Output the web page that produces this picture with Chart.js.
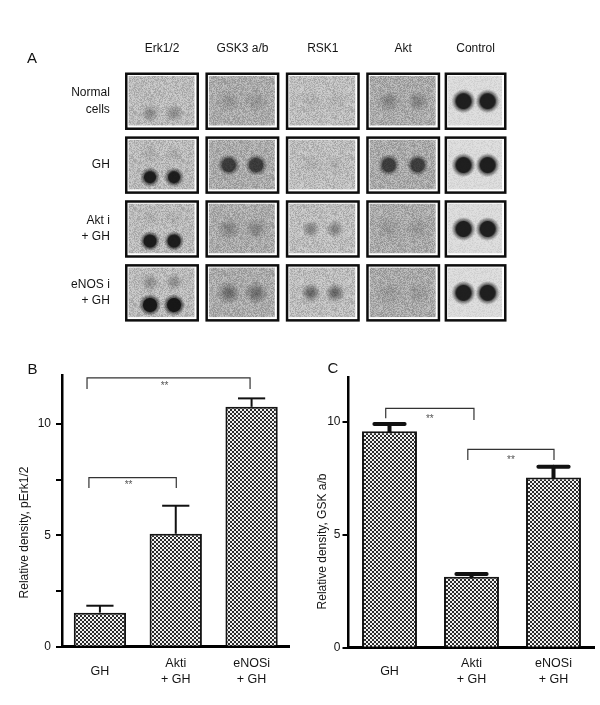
<!DOCTYPE html>
<html>
<head>
<meta charset="utf-8">
<script src="https://cdn.jsdelivr.net/npm/chart.js@4.4.1/dist/chart.umd.min.js"></script>
<style>
  html, body { margin: 0; padding: 0; background: #fff; }
  #wrap { position: relative; width: 600px; height: 705px; overflow: hidden; }
  .panel { position: absolute; }
</style>
</head>
<body>
<div id="wrap">
  <div class="panel" style="left:0;top:0;width:600px;height:345px"><canvas id="chart-blot"></canvas></div>
  <div class="panel" style="left:0;top:355px;width:300px;height:350px"><canvas id="chart-erk"></canvas></div>
  <div class="panel" style="left:300px;top:355px;width:300px;height:350px"><canvas id="chart-gsk"></canvas></div>
</div>
<script>
// ==================== DATOS ====================
const blotColumns = ['Erk1/2', 'GSK3 a/b', 'RSK1', 'Akt', 'Control'];
const blotRows = [['Normal', 'cells'], 'GH', ['Akt i', '+ GH'], ['eNOS i', '+ GH']];
// darkness of each spot pair (0 = invisible, 1 = black), rows x columns
const spotLevel = [
    [0.32, 0.16, 0.07, 0.30, 0.95],
    [0.95, 0.74, 0.08, 0.72, 0.95],
    [0.95, 0.28, 0.38, 0.13, 0.95],
    [0.98, 0.46, 0.56, 0.13, 0.95]
];
const spotRadius = [
    [6, 7.5, 7, 7, 8.5],
    [6.5, 7.5, 7, 7.5, 8.5],
    [7, 7.5, 6, 8, 8.5],
    [7.5, 7.5, 6.5, 8, 8.5]
];
// faint upper pair in the Erk1/2 spots
const erkUpperLevel = [0, 0.10, 0.08, 0.30];

const groups = ['GH', ['Akti', '+ GH'], ['eNOSi', '+ GH']];
const erkMean = [1.53, 5.07, 10.77];
const erkSem = [0.31, 1.26, 0.38];
const erkTicks = [0, 2.5, 5, 7.5, 10];
const erkBrackets = [
    { from: 0, to: 2, level: 12.07, ends: [11.57, 11.57], mark: '**' },
    { from: 0, to: 1, level: 7.59, ends: [7.13, 7.13], mark: '**' }
];
const gskMean = [9.60, 3.15, 7.55];
const gskSem = [0.32, 0.12, 0.47];
const gskTicks = [0, 5, 10];
const gskBrackets = [
    { from: 0, to: 1, level: 10.61, ends: [10.17, 10.09], mark: '**' },
    { from: 1, to: 2, level: 8.79, ends: [8.32, 8.32], mark: '**' }
];

Chart.defaults.font.family = "'Liberation Sans', Arial, sans-serif";
Chart.defaults.color = '#141414';

// ==================== UTILIDADES ====================
function hash(n) {
    const s = Math.sin(n * 127.1 + 311.7) * 43758.5453;
    return s - Math.floor(s);
}

function membraneTile(base, amp, seed) {
    const c = document.createElement('canvas');
    c.width = c.height = 48;
    const g = c.getContext('2d');
    g.fillStyle = base;
    g.fillRect(0, 0, 48, 48);
    for (let i = 0; i < 48 * 48; i++) {
        const v = hash(i + seed * 977);
        g.fillStyle = v > 0.5 ? `rgba(255,255,255,${(v - 0.5) * amp})` : `rgba(0,0,0,${(0.5 - v) * amp * 0.5})`;
        g.fillRect(i % 48, Math.floor(i / 48), 1, 1);
    }
    return c;
}

const spotCache = {};
function spotImage(r, level) {
    const key = r + '_' + level;
    if (spotCache[key]) return spotCache[key];
    const dark = level > 0.6;
    const R = Math.ceil(dark ? r + 3 : r * 1.5);
    const c = document.createElement('canvas');
    c.width = c.height = 2 * R;
    const g = c.getContext('2d');
    const grad = g.createRadialGradient(R, R, 0, R, R, R);
    if (dark) {
        grad.addColorStop(0, `rgba(20,20,20,${level})`);
        grad.addColorStop((r - 1) / R, `rgba(20,20,20,${level})`);
        grad.addColorStop(r / R, `rgba(20,20,20,${level * 0.6})`);
        grad.addColorStop(1, 'rgba(20,20,20,0)');
    } else {
        grad.addColorStop(0, `rgba(30,30,30,${level})`);
        grad.addColorStop(0.45 * r / R, `rgba(30,30,30,${level * 0.9})`);
        grad.addColorStop(r / R, `rgba(30,30,30,${level * 0.45})`);
        grad.addColorStop(1, 'rgba(30,30,30,0)');
    }
    g.fillStyle = grad;
    g.fillRect(0, 0, 2 * R, 2 * R);
    spotCache[key] = c;
    return c;
}

function checkPattern(canvasId) {
    const tile = document.createElement('canvas');
    tile.width = tile.height = 4;
    const g = tile.getContext('2d');
    g.fillStyle = '#f2f2f2';
    g.fillRect(0, 0, 4, 4);
    g.fillStyle = '#2c2c2c';
    g.fillRect(0, 0, 2, 2);
    g.fillRect(2, 2, 2, 2);
    return document.getElementById(canvasId).getContext('2d').createPattern(tile, 'repeat');
}

function panelLetter(letter, x, y) {
    return {
        id: 'panelLetter',
        afterDraw(chart) {
            const ctx = chart.ctx;
            ctx.save();
            ctx.font = "15px 'Liberation Sans', Arial, sans-serif";
            ctx.fillStyle = '#111';
            ctx.textAlign = 'center';
            ctx.textBaseline = 'middle';
            ctx.fillText(letter, x, y);
            ctx.restore();
        }
    };
}

function sideTitle(text, x, y) {
    return {
        id: 'sideTitle',
        afterDraw(chart) {
            const ctx = chart.ctx;
            ctx.save();
            ctx.translate(x, y);
            ctx.rotate(-Math.PI / 2);
            ctx.font = "12px 'Liberation Sans', Arial, sans-serif";
            ctx.fillStyle = '#141414';
            ctx.textAlign = 'center';
            ctx.textBaseline = 'middle';
            ctx.fillText(text, 0, 0);
            ctx.restore();
        }
    };
}

function errorBars(sems, style) {
    return {
        id: 'errorBars',
        afterDatasetsDraw(chart) {
            const { ctx, scales: { y } } = chart;
            const vals = chart.data.datasets[0].data;
            ctx.save();
            ctx.strokeStyle = '#111';
            ctx.lineCap = style.round ? 'round' : 'butt';
            chart.getDatasetMeta(0).data.forEach((bar, i) => {
                const yTop = y.getPixelForValue(vals[i] + sems[i]);
                const half = bar.width * style.capFrac / 2;
                ctx.lineWidth = style.stem;
                ctx.beginPath();
                ctx.moveTo(bar.x, bar.y);
                ctx.lineTo(bar.x, yTop);
                ctx.stroke();
                ctx.lineWidth = style.cap;
                ctx.beginPath();
                ctx.moveTo(bar.x - half, yTop);
                ctx.lineTo(bar.x + half, yTop);
                ctx.stroke();
            });
            ctx.restore();
        }
    };
}

// shifts = [left, right] offsets of each bracket end, in category widths
function brackets(list, shifts, textGap) {
    return {
        id: 'brackets',
        afterDraw(chart) {
            const { ctx, scales: { x, y } } = chart;
            const step = x.getPixelForValue(1) - x.getPixelForValue(0);
            ctx.save();
            ctx.strokeStyle = '#333';
            ctx.lineWidth = 1.2;
            ctx.fillStyle = '#555';
            ctx.font = "10px 'Liberation Sans', Arial, sans-serif";
            ctx.textAlign = 'center';
            ctx.textBaseline = 'middle';
            list.forEach((b, k) => {
                const x0 = x.getPixelForValue(b.from) + shifts[k][0] * step;
                const x1 = x.getPixelForValue(b.to) + shifts[k][1] * step;
                const yl = y.getPixelForValue(b.level);
                ctx.beginPath();
                ctx.moveTo(x0, y.getPixelForValue(b.ends[0]));
                ctx.lineTo(x0, yl);
                ctx.lineTo(x1, yl);
                ctx.lineTo(x1, y.getPixelForValue(b.ends[1]));
                ctx.stroke();
                ctx.fillText(b.mark, (x0 + x1) / 2 + textGap[0], yl + textGap[1]);
            });
            ctx.restore();
        }
    };
}

// ==================== PANEL A: DOT BLOT ====================
const COL_POS = [0, 1, 2, 3, 3.9];
const COL_W = [0.92, 0.92, 0.92, 0.92, 0.77];
const SPOT_DX = [0.15, 0.17, 0.15, 0.18, 0.15];
const ROW_H = 0.9;
const membraneBase = ['#bcbcbc', '#ababab', '#bebebe', '#a9a9a9', '#dcdcdc'];

const blotPoints = [];
blotRows.forEach((row, i) => {
    blotColumns.forEach((col, j) => {
        const dy = j === 0 ? 0.19 : 0;
        [-1, 1].forEach(side => {
            blotPoints.push({ x: COL_POS[j] + side * SPOT_DX[j], y: i + dy, r: spotRadius[i][j], level: spotLevel[i][j] });
            if (j === 0 && erkUpperLevel[i] > 0) {
                blotPoints.push({ x: COL_POS[j] + side * SPOT_DX[j], y: i - 0.17, r: 6, level: erkUpperLevel[i] });
            }
        });
    });
});

const blotCtx = document.getElementById('chart-blot').getContext('2d');
const membranePatterns = membraneBase.map((b, j) => blotCtx.createPattern(membraneTile(b, j === 4 ? 0.25 : 0.6, j + 1), 'repeat'));

const membranePlugin = {
    id: 'membranes',
    beforeDatasetsDraw(chart) {
        const { ctx, scales: { x, y } } = chart;
        ctx.save();
        blotRows.forEach((row, i) => {
            blotColumns.forEach((col, j) => {
                const l = x.getPixelForValue(COL_POS[j] - COL_W[j] / 2);
                const r = x.getPixelForValue(COL_POS[j] + COL_W[j] / 2);
                const t = Math.min(y.getPixelForValue(i - ROW_H / 2), y.getPixelForValue(i + ROW_H / 2));
                const b = Math.max(y.getPixelForValue(i - ROW_H / 2), y.getPixelForValue(i + ROW_H / 2));
                ctx.fillStyle = '#0d0d0d';
                ctx.fillRect(l, t, r - l, b - t);
                ctx.fillStyle = '#ffffff';
                ctx.fillRect(l + 2.5, t + 2.5, r - l - 5, b - t - 5);
                ctx.fillStyle = membranePatterns[j];
                ctx.fillRect(l + 3.5, t + 3.5, r - l - 8, b - t - 8);
            });
        });
        ctx.restore();
    }
};

new Chart(blotCtx, {
    type: 'bubble',
    data: {
        datasets: [{
            data: blotPoints,
            pointStyle: (c) => c.raw ? spotImage(c.raw.r, c.raw.level) : 'circle',
            backgroundColor: 'rgba(0,0,0,0)',
            borderWidth: 0
        }]
    },
    options: {
        responsive: true,
        maintainAspectRatio: false,
        animation: false,
        events: [],
        layout: { padding: { left: 0, right: 76.2, top: 0, bottom: 15.7 } },
        plugins: { legend: { display: false }, tooltip: { enabled: false } },
        scales: {
            x: {
                type: 'linear', position: 'top', min: -0.5, max: 4.5,
                afterBuildTicks: (s) => { s.ticks = COL_POS.map(v => ({ value: v })); },
                afterFit: (s) => { s.height = 69.3; },
                ticks: { callback: (v, i) => blotColumns[i], autoSkip: false, maxRotation: 0, padding: 5, font: { size: 12 } },
                grid: { display: false },
                border: { display: false }
            },
            y: {
                type: 'linear', reverse: true, min: -0.5, max: 3.5,
                afterBuildTicks: (s) => { s.ticks = blotRows.map((r, i) => ({ value: i })); },
                afterFit: (s) => { s.width = 121.8; },
                ticks: { callback: (v, i) => blotRows[i], autoSkip: false, padding: 4, font: { size: 12, lineHeight: 1.35 } },
                grid: { display: false },
                border: { display: false }
            }
        }
    },
    plugins: [membranePlugin, panelLetter('A', 32, 59)]
});

// ==================== PANEL B: pErk1/2 ====================
new Chart(document.getElementById('chart-erk'), {
    type: 'bar',
    data: {
        labels: groups,
        datasets: [{
            data: erkMean,
            backgroundColor: checkPattern('chart-erk'),
            borderColor: '#151515',
            borderWidth: 2,
            barPercentage: 0.69,
            categoryPercentage: 1
        }]
    },
    options: {
        responsive: true,
        maintainAspectRatio: false,
        animation: false,
        events: [],
        layout: { padding: { left: 0, right: 10.5, top: 20, bottom: 0 } },
        plugins: { legend: { display: false }, tooltip: { enabled: false } },
        scales: {
            x: {
                afterFit: (s) => { s.height = 58.3; },
                ticks: { autoSkip: false, maxRotation: 0, padding: 17, crossAlign: 'center', font: { size: 12.5, lineHeight: 1.28 } },
                grid: { drawOnChartArea: false, drawTicks: false },
                border: { color: '#000', width: 3 }
            },
            y: {
                min: 0, max: 12.2,
                afterBuildTicks: (s) => { s.ticks = erkTicks.map(v => ({ value: v })); },
                afterFit: (s) => { s.width = 62; },
                ticks: { callback: (v) => Number.isInteger(v) ? v : '', padding: 5, font: { size: 12 } },
                grid: { drawOnChartArea: false, tickLength: 6, lineWidth: 2, color: '#000' },
                border: { color: '#000', width: 2.5 }
            }
        }
    },
    plugins: [
        errorBars(erkSem, { stem: 2, cap: 2, capFrac: 0.52, round: false }),
        brackets(erkBrackets, [[-0.17, -0.02], [-0.145, 0.007]], [-4, 8]),
        sideTitle('Relative density, pErk1/2', 25, 177.5),
        panelLetter('B', 32.5, 15)
    ]
});

// ==================== PANEL C: GSK a/b ====================
new Chart(document.getElementById('chart-gsk'), {
    type: 'bar',
    data: {
        labels: groups,
        datasets: [{
            data: gskMean,
            backgroundColor: checkPattern('chart-gsk'),
            borderColor: '#151515',
            borderWidth: 2,
            barPercentage: 0.67,
            categoryPercentage: 1
        }]
    },
    options: {
        responsive: true,
        maintainAspectRatio: false,
        animation: false,
        events: [],
        layout: { padding: { left: 0, right: 5.5, top: 22, bottom: 0 } },
        plugins: { legend: { display: false }, tooltip: { enabled: false } },
        scales: {
            x: {
                afterFit: (s) => { s.height = 57.3; },
                ticks: { autoSkip: false, maxRotation: 0, padding: 16, crossAlign: 'center', font: { size: 12.5, lineHeight: 1.28 } },
                grid: { drawOnChartArea: false, drawTicks: false },
                border: { color: '#000', width: 3 }
            },
            y: {
                min: 0, max: 12,
                afterBuildTicks: (s) => { s.ticks = gskTicks.map(v => ({ value: v })); },
                afterFit: (s) => { s.width = 48.5; },
                ticks: { padding: 2, font: { size: 12 } },
                grid: { drawOnChartArea: false, tickLength: 6, lineWidth: 2, color: '#000' },
                border: { color: '#000', width: 2.5 }
            }
        }
    },
    plugins: [
        errorBars(gskSem, { stem: 4, cap: 4, capFrac: 0.55, round: true }),
        brackets(gskBrackets, [[-0.046, 0.03], [-0.045, 0.006]], [0, 11]),
        sideTitle('Relative density, GSK a/b', 23, 186.5),
        panelLetter('C', 33, 14)
    ]
});
</script>
</body>
</html>
